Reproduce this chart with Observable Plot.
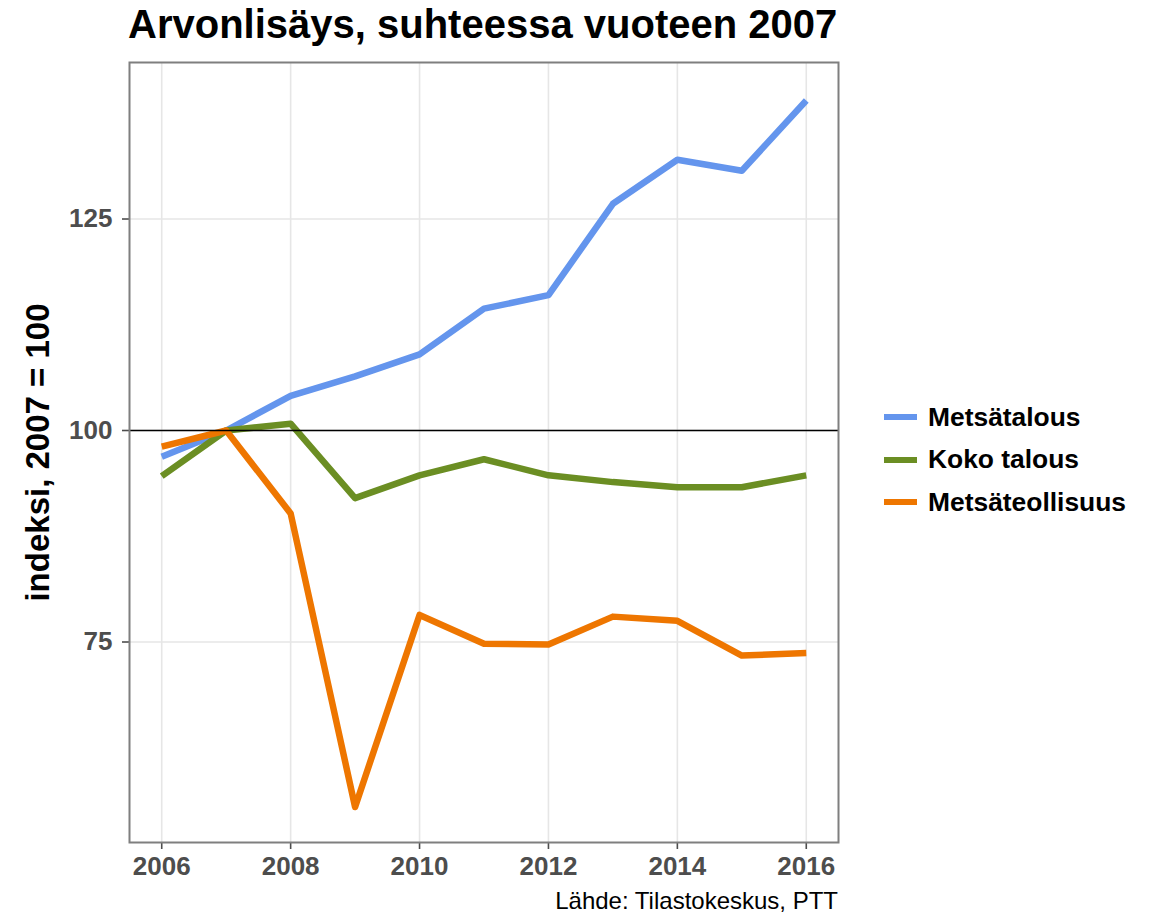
<!DOCTYPE html>
<html>
<head>
<meta charset="utf-8">
<script src="https://cdn.jsdelivr.net/npm/d3@7"></script>
<script src="https://cdn.jsdelivr.net/npm/@observablehq/plot@0.6"></script>
<style>
  body { margin: 0; background: #fff; font-family: "Liberation Sans", Arial, Helvetica, sans-serif; }
  #wrap { position: relative; width: 1151px; height: 914px; overflow: hidden; }
  #title { position: absolute; left: 128px; top: 4px; font-size: 40px; line-height: 40px; font-weight: bold; color: #000; white-space: nowrap; }
  #chart { position: absolute; left: 0; top: 0; }
  #legend { position: absolute; left: 884px; top: 396px; }
  .row { display: flex; align-items: center; height: 42.5px; }
  .sw { width: 33px; height: 6px; margin-right: 11px; }
  .lab { font-size: 26.4px; font-weight: bold; color: #000; white-space: nowrap; }
  #caption { position: absolute; right: 313px; top: 889px; font-size: 24px; line-height: 24px; color: #000; white-space: nowrap; }
</style>
</head>
<body>
<div id="wrap">
  <div id="chart"></div>
  <div id="title"></div>
  <div id="legend"></div>
  <div id="caption"></div>
</div>
<script>
const titleText = "Arvonlisäys, suhteessa vuoteen 2007";
const yLabel = "indeksi, 2007 = 100";
const captionText = "Lähde: Tilastokeskus, PTT";

const years = [2006, 2007, 2008, 2009, 2010, 2011, 2012, 2013, 2014, 2015, 2016];
const seriesNames = ["Metsätalous", "Koko talous", "Metsäteollisuus"];
const seriesColors = ["#6495ED", "#6B8E23", "#EE7600"];
const metsatalous     = [96.9, 100, 104.1, 106.4, 109.0, 114.4, 116.0, 126.8, 132.0, 130.7, 139.0];
const kokoTalous      = [94.6, 100, 100.8,  92.0,  94.7,  96.6,  94.7,  93.9,  93.3,  93.3,  94.7];
const metsateollisuus = [98.1, 100,  90.2,  55.5,  78.2,  74.8,  74.7,  78.0,  77.5,  73.4,  73.7];
const xTicks = [2006, 2008, 2010, 2012, 2014, 2016];
const yTicks = [75, 100, 125];
const refValue = [100];

const data = [];
[metsatalous, kokoTalous, metsateollisuus].forEach((vals, i) =>
  vals.forEach((v, j) => data.push({series: seriesNames[i], year: years[j], value: v}))
);

const plot = Plot.plot({
  width: 850,
  height: 914,
  marginTop: 62,
  marginBottom: 72,
  marginLeft: 129,
  marginRight: 12,
  style: {fontFamily: "'Liberation Sans', Arial, Helvetica, sans-serif", background: "#fff"},
  x: {type: "linear", domain: [2005.5, 2016.5]},
  y: {type: "linear", domain: [51.3, 143.5]},
  color: {domain: seriesNames, range: seriesColors},
  marks: [
    Plot.gridX(xTicks, {stroke: "#e6e6e6", strokeOpacity: 1, strokeWidth: 1.6}),
    Plot.gridY(yTicks, {stroke: "#e6e6e6", strokeOpacity: 1, strokeWidth: 1.6}),
    Plot.axisX(xTicks, {tickSize: 7, tickPadding: 7, tickFormat: d => String(d), fontSize: 26, fontWeight: "bold", color: "#4d4d4d", label: null, strokeWidth: 1.6}),
    Plot.axisY(yTicks, {tickSize: 7, tickPadding: 10, tickFormat: d => String(d), fontSize: 26, fontWeight: "bold", color: "#4d4d4d", label: null, strokeWidth: 1.6}),
    Plot.text([yLabel], {text: d => d, frameAnchor: "left", textAnchor: "middle", lineAnchor: "middle", dx: -91, rotate: -90, fontSize: 33, fontWeight: "bold", fill: "#000"}),
    Plot.line(data, {x: "year", y: "value", z: "series", stroke: "series", strokeWidth: 6.5, strokeLinejoin: "round", strokeLinecap: "butt"}),
    Plot.ruleY(refValue, {stroke: "#000", strokeWidth: 1.6}),
    Plot.frame({stroke: "#7f7f7f", strokeWidth: 2})
  ]
});
document.getElementById("chart").appendChild(plot);
document.getElementById("title").textContent = titleText;
document.getElementById("caption").textContent = captionText;

const legend = document.getElementById("legend");
seriesNames.forEach((name, i) => {
  const row = document.createElement("div");
  row.className = "row";
  const sw = document.createElement("div");
  sw.className = "sw";
  sw.style.background = seriesColors[i];
  const lab = document.createElement("div");
  lab.className = "lab";
  lab.textContent = name;
  row.appendChild(sw);
  row.appendChild(lab);
  legend.appendChild(row);
});
</script>
</body>
</html>
